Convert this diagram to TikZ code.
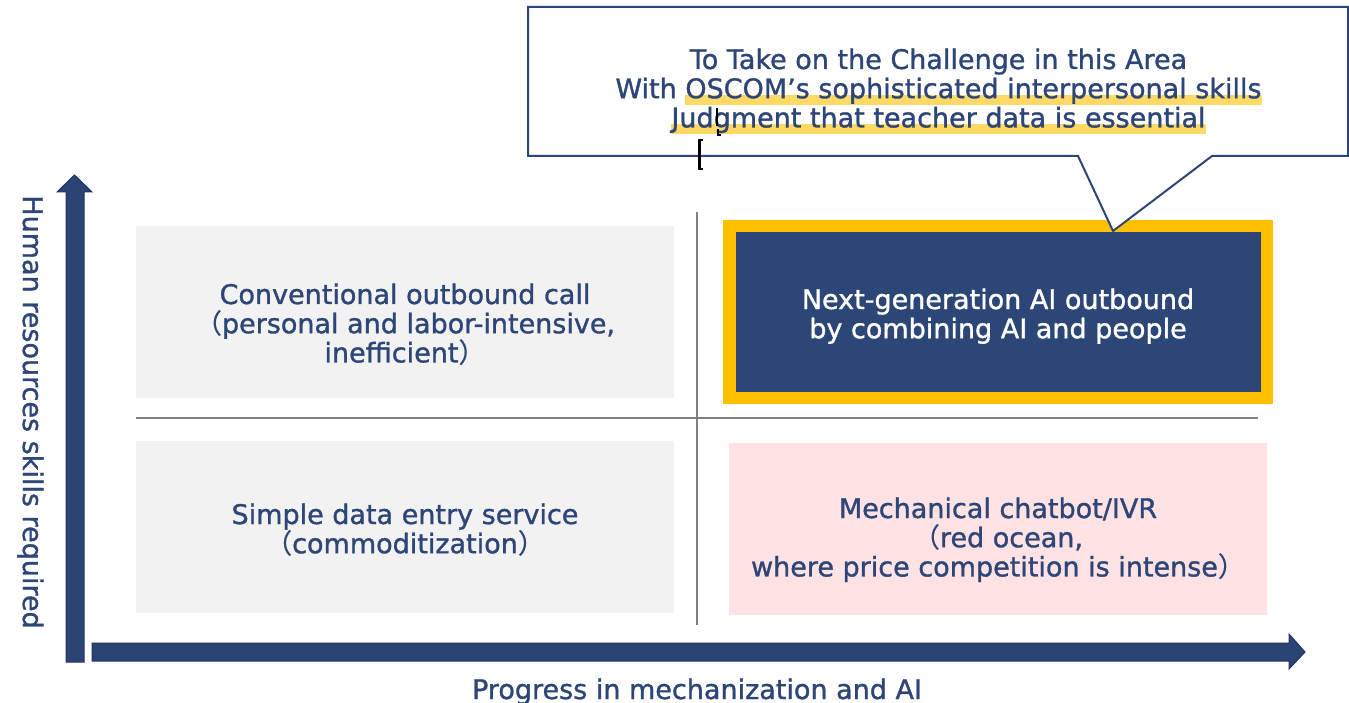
\documentclass[tikz,border=0pt]{standalone}
\usepackage{fontspec}
\setmainfont{DejaVu Sans}
\newfontfamily\labelfont{DejaVu Sans}[FakeBold=1.2]
\newfontfamily\cjk{Noto Sans CJK JP}[FakeBold=0.3]

\definecolor{inkblue}{HTML}{2E4677}
\definecolor{axisfill}{HTML}{2C4474}
\definecolor{axisedge}{HTML}{1F3560}
\definecolor{darkpane}{HTML}{2C4677}
\definecolor{goldrim}{HTML}{FFC000}
\definecolor{hlyellow}{HTML}{FFD966}
\definecolor{panegray}{HTML}{F2F2F2}
\definecolor{panepink}{HTML}{FFE3E4}
\definecolor{gridgray}{HTML}{808080}

% full-width parentheses, kept from stretching the line height
\newcommand\lpar{\raisebox{0pt}[0pt][0pt]{\cjk （}}
\newcommand\rpar{\raisebox{0pt}[0pt][0pt]{\cjk ）}}

% marker-pen highlight under a run of text
\newsavebox\hlbox
\newcommand\marker[1]{\sbox\hlbox{#1}\rlap{\textcolor{hlyellow}{\rule[-7pt]{\wd\hlbox}{10pt}}}\usebox\hlbox}

% centred lines whose baseline is the first line
\newcommand\lines[1]{\begin{tabular}[t]{@{}c@{}}#1\end{tabular}}

\tikzset{
  pane/.style={rectangle, inner sep=0pt, outer sep=0pt, draw=none},
  label/.style={inner sep=0pt, outer sep=0pt, anchor=base, text=inkblue,
    font=\labelfont\fontsize{27}{29}\selectfont},
  gridline/.style={draw=gridgray, line width=2pt},
  axis/.style={fill=axisfill, draw=axisedge, line width=1pt},
  callout/.style={draw=inkblue, line width=2pt, fill=white, line join=miter},
  scribble/.style={draw=black, line width=2.5pt},
}

\begin{document}
\begin{tikzpicture}[x=1pt,y=-1pt]
\useasboundingbox (0,0) rectangle (1349,703);
\fill[white] (0,0) rectangle (1349,703);

% quadrant panes
\node[pane, fill=panegray, minimum width=538pt, minimum height=172pt] (tl) at (405,312) {};
\node[pane, fill=panegray, minimum width=538pt, minimum height=172pt] (bl) at (405,527) {};
\node[pane, fill=panepink, minimum width=538pt, minimum height=172pt] (br) at (998,529) {};
\node[pane, fill=goldrim, minimum width=550pt, minimum height=184pt] (rim) at (998,312) {};
\node[pane, fill=darkpane, minimum width=525pt, minimum height=160pt] (tr) at (998.5,312) {};

% dividing lines
\coordinate (vtop) at (697,212);
\coordinate (vbot) at (697,625);
\coordinate (hleft) at (136,418);
\coordinate (hright) at (1258,418);
\draw[gridline] (vtop) -- (vbot);
\draw[gridline] (hleft) -- (hright);

% axes
\filldraw[axis] (66,662) -- (66,192) -- (57,192) -- (74.5,175) -- (92,192) -- (84,192) -- (84,662) -- cycle;
\filldraw[axis] (92,643) -- (1289,643) -- (1289,634) -- (1305,652) -- (1289,669) -- (1289,661) -- (92,661) -- cycle;

% quadrant texts
\node[label] (tltext) at (405,304) {\lines{Conventional outbound call\\ \lpar personal and labor-intensive,\\ inefficient\rpar}};
\node[label, text=white] (trtext) at (998,309) {\lines{Next-generation AI outbound\\ by combining AI and people}};
\node[label] (bltext) at (405,524) {\lines{Simple data entry service\\ \lpar commoditization\rpar}};
\node[label] (brtext) at (998,518) {\lines{Mechanical chatbot/IVR\\ \lpar red ocean,\\ where price competition is intense\rpar}};

% axis titles
\node[label] (xtitle) at (697,699) {Progress in mechanization and AI};
\node[label, rotate=-90] (ytitle) at (23,412) {Human resources skills required};

% callout
\path[callout] (528,7) -- (1348,7) -- (1348,156) -- (1212,156) -- (1113,231) -- (1078,156) -- (528,156) -- cycle;
\node[label] (note) at (938.5,69) {\lines{To Take on the Challenge in this Area\\
  With \marker{OSCOM’s sophisticated interpersonal skills}\\
  \marker{Judgment that teacher data is essential}}};

% stray pen marks
\draw[scribble] (717,108) -- (717,126);
\draw[scribble, line width=2pt] (718,129) -- (718,135) -- (721,135);
\draw[scribble] (703,140) -- (699.5,140) -- (699.5,169) -- (703,169);
\end{tikzpicture}
\end{document}
